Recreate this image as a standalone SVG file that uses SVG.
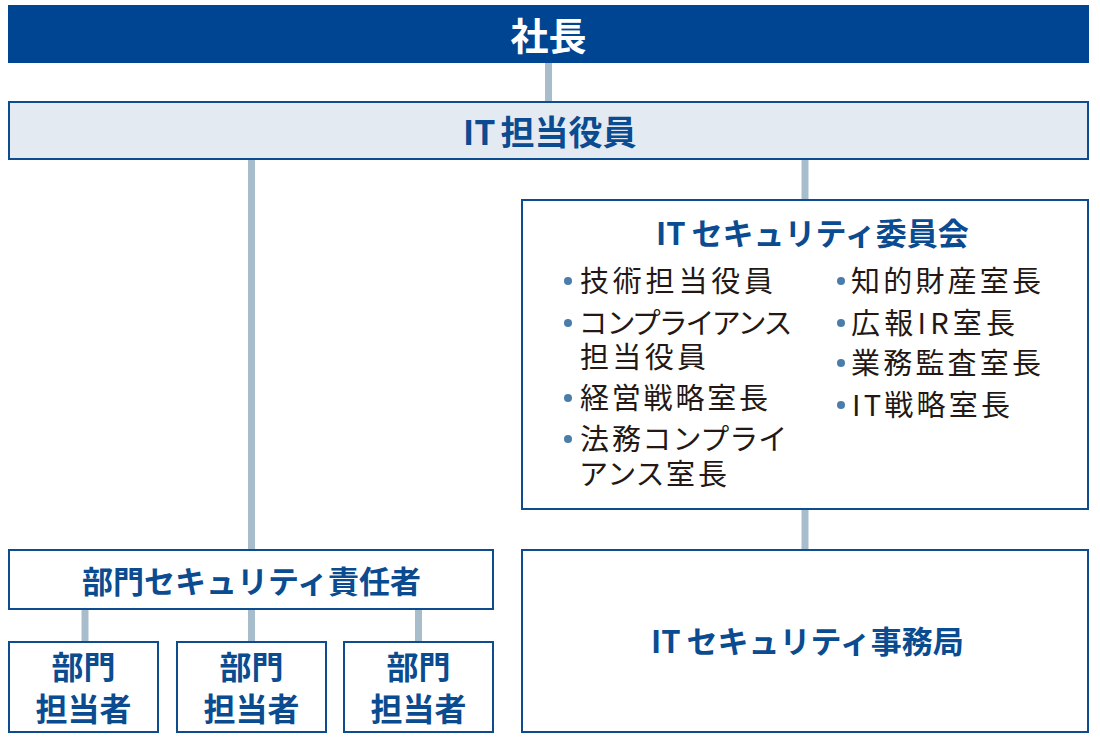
<svg xmlns="http://www.w3.org/2000/svg" width="1100" height="742" viewBox="0 0 1100 742">
<style>
  text { font-family: "Noto Sans CJK JP", "Noto Sans", sans-serif; }
  .box { fill: #ffffff; stroke: #0d4c8f; stroke-width: 2; }
  .hd { fill: #0b4b90; font-weight: 700; }
  .hdm { fill: #0b4b90; font-weight: 600; }
  .li { fill: #231815; font-size: 29px; font-weight: 400; font-feature-settings: "palt"; }
  .dot { fill: #4a7daa; }
  .conn line { stroke: #a8bdcb; stroke-width: 7; }
</style>
<rect width="1100" height="742" fill="#ffffff"/>
<g class="conn" id="connectors">
  <line x1="548.5" y1="63" x2="548.5" y2="102"/>
  <line x1="251.5" y1="159" x2="251.5" y2="550"/>
  <line x1="805" y1="159" x2="805" y2="200"/>
  <line x1="805" y1="509" x2="805" y2="550"/>
  <line x1="85" y1="609" x2="85" y2="642"/>
  <line x1="251.5" y1="609" x2="251.5" y2="642"/>
  <line x1="418.5" y1="609" x2="418.5" y2="642"/>
</g>
<g id="president">
  <rect x="8" y="5" width="1081" height="58" fill="#004591"/>
  <text x="548.5" y="49.5" text-anchor="middle" font-size="38" font-weight="700" fill="#ffffff">社長</text>
</g>
<g id="it-officer">
  <rect x="9" y="102" width="1079" height="57" fill="#e4eaf2" stroke="#0d4c8f" stroke-width="2"/>
  <text class="hd" x="463" y="145" font-size="34">IT<tspan dx="5">担当役員</tspan></text>
</g>
<g id="committee">
  <rect class="box" x="522" y="200" width="566" height="309"/>
  <text class="hdm" x="656" y="245" font-size="31">IT<tspan dx="6">セキュリティ委員会</tspan></text>
  <circle class="dot" cx="568" cy="281" r="4"/>
  <text class="li" x="580" y="292" textLength="193" lengthAdjust="spacing">技術担当役員</text>
  <circle class="dot" cx="568" cy="323" r="4"/>
  <text class="li"><tspan x="580" y="334" textLength="211" lengthAdjust="spacing">コンプライアンス</tspan><tspan x="580" y="368" textLength="126" lengthAdjust="spacing">担当役員</tspan></text>
  <circle class="dot" cx="568" cy="398" r="4"/>
  <text class="li" x="580" y="409" textLength="188" lengthAdjust="spacing">経営戦略室長</text>
  <circle class="dot" cx="568" cy="439" r="4"/>
  <text class="li"><tspan x="580" y="450" textLength="205" lengthAdjust="spacing">法務コンプライ</tspan><tspan x="580" y="485" textLength="147" lengthAdjust="spacing">アンス室長</tspan></text>
  <circle class="dot" cx="841" cy="281" r="4"/>
  <text class="li" x="851" y="292" textLength="190" lengthAdjust="spacing">知的財産室長</text>
  <circle class="dot" cx="841" cy="323" r="4"/>
  <text class="li" x="851" y="334" textLength="164" lengthAdjust="spacing">広報IR室長</text>
  <circle class="dot" cx="841" cy="363" r="4"/>
  <text class="li" x="851" y="374" textLength="190" lengthAdjust="spacing">業務監査室長</text>
  <circle class="dot" cx="841" cy="405" r="4"/>
  <text class="li" x="852" y="416" textLength="158" lengthAdjust="spacing">IT戦略室長</text>
</g>
<g id="dept-security-manager">
  <rect class="box" x="9" y="550" width="484" height="59"/>
  <text class="hd" x="251.5" y="593" text-anchor="middle" font-size="31">部門セキュリティ責任者</text>
</g>
<g id="dept-staff-1">
  <rect class="box" x="9" y="642" width="149" height="90"/>
  <text class="hd" x="83.5" y="679" text-anchor="middle" font-size="32">部門</text>
  <text class="hd" x="83.5" y="721" text-anchor="middle" font-size="32">担当者</text>
</g>
<g id="dept-staff-2">
  <rect class="box" x="177" y="642" width="149" height="90"/>
  <text class="hd" x="251.5" y="679" text-anchor="middle" font-size="32">部門</text>
  <text class="hd" x="251.5" y="721" text-anchor="middle" font-size="32">担当者</text>
</g>
<g id="dept-staff-3">
  <rect class="box" x="344" y="642" width="149" height="90"/>
  <text class="hd" x="418.5" y="679" text-anchor="middle" font-size="32">部門</text>
  <text class="hd" x="418.5" y="721" text-anchor="middle" font-size="32">担当者</text>
</g>
<g id="it-security-office">
  <rect class="box" x="522" y="550" width="566" height="182"/>
  <text class="hdm" x="651" y="653" font-size="31">IT<tspan dx="6">セキュリティ事務局</tspan></text>
</g>
</svg>
